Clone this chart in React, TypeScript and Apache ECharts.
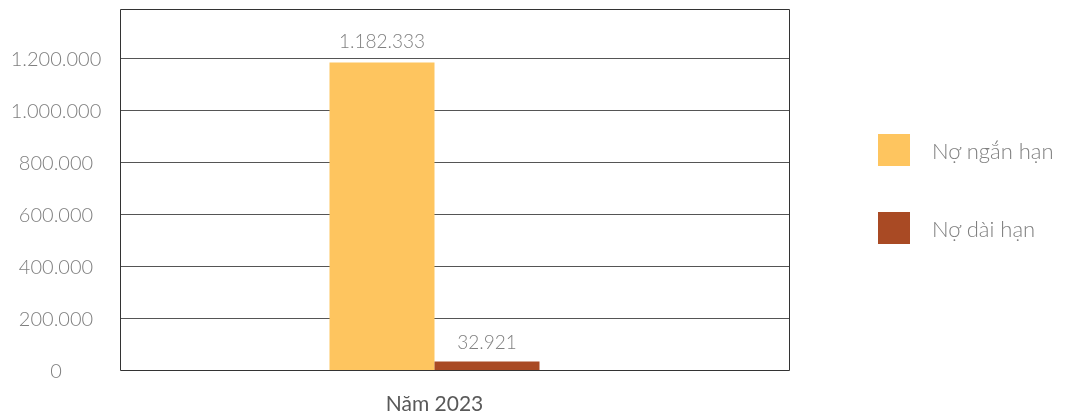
import React, { useEffect, useRef } from "react";
import * as echarts from "echarts";

const categories = ["Năm 2023"];
const seriesNames = ["Nợ ngắn hạn", "Nợ dài hạn"];
const shortTermDebt = [1182333];
const longTermDebt = [32921];
const yTicks = [0, 200000, 400000, 600000, 800000, 1000000, 1200000, 1400000];

const fmt = (v: number) => String(Math.round(v)).replace(/\B(?=(\d{3})+(?!\d))/g, ".");

export default function App() {
  const ref = useRef<HTMLDivElement>(null);
  useEffect(() => {
    const chart = echarts.init(ref.current!, undefined, { renderer: "svg" });
    const font = "Lato";
    const yMax = yTicks[yTicks.length - 1];
    const interval = yTicks[1] - yTicks[0];
    chart.setOption({
      animation: false,
      textStyle: { fontFamily: font },
      grid: [
        { left: 120, right: 281, top: 6, bottom: 45 },
        { left: 120, right: 321, top: 6, bottom: 45 },
      ],
      legend: {
        orient: "vertical",
        left: 878,
        top: 134,
        padding: 0,
        itemWidth: 32,
        itemHeight: 32,
        itemGap: 46,
        icon: "rect",
        textStyle: { fontSize: 22, fontWeight: 300, color: "#7f7f7f", fontFamily: font, padding: [0, 0, 0, 17] },
        data: seriesNames,
      },
      xAxis: [
        {
          gridIndex: 0,
          type: "category",
          data: categories,
          show: false,
        },
        {
          gridIndex: 1,
          type: "category",
          data: categories,
          axisLine: { show: false },
          axisTick: { show: false },
          axisLabel: { fontSize: 21, color: "#595959", margin: 22, fontFamily: font },
        },
      ],
      yAxis: [
        {
          gridIndex: 0,
          type: "value",
          min: 0,
          max: yMax,
          interval,
          axisLine: { show: false },
          axisTick: { show: false },
          splitLine: { show: true, showMinLine: false, showMaxLine: false, lineStyle: { color: "#555", width: 1 } },
          axisLabel: {
            fontSize: 20,
            fontWeight: 300,
            color: "#7f7f7f",
            align: "center",
            margin: 64,
            fontFamily: font,
            formatter: (v: number) => (v >= yMax ? "" : fmt(v)),
          },
        },
        {
          gridIndex: 1,
          type: "value",
          min: 0,
          max: yMax,
          interval,
          show: false,
          splitLine: { show: false },
        },
      ],
      graphic: [
        {
          type: "rect",
          shape: { x: 120.5, y: 9.5, width: 669, height: 361 },
          style: { fill: "none", stroke: "#333", lineWidth: 1 },
          silent: true,
          z: 10,
        },
      ],
      series: [
        {
          name: seriesNames[0],
          type: "bar",
          xAxisIndex: 1,
          yAxisIndex: 1,
          data: shortTermDebt,
          barWidth: 105,
          barGap: "0%",
          itemStyle: { color: "#FEC55F" },
          label: {
            show: true,
            position: "top",
            distance: 13,
            fontSize: 19,
            fontWeight: 300,
            color: "#7f7f7f",
            fontFamily: font,
            formatter: (p: any) => fmt(p.value),
          },
        },
        {
          name: seriesNames[1],
          type: "bar",
          xAxisIndex: 1,
          yAxisIndex: 1,
          data: longTermDebt,
          barWidth: 105,
          barGap: "0%",
          itemStyle: { color: "#A94A24" },
          label: {
            show: true,
            position: "top",
            distance: 10,
            fontSize: 19,
            fontWeight: 300,
            color: "#7f7f7f",
            fontFamily: font,
            formatter: (p: any) => fmt(p.value),
          },
        },
      ],
    });
    return () => chart.dispose();
  }, []);
  return <div ref={ref} style={{ width: 1070, height: 415, position: "fixed", left: 0, top: 0 }} />;
}
